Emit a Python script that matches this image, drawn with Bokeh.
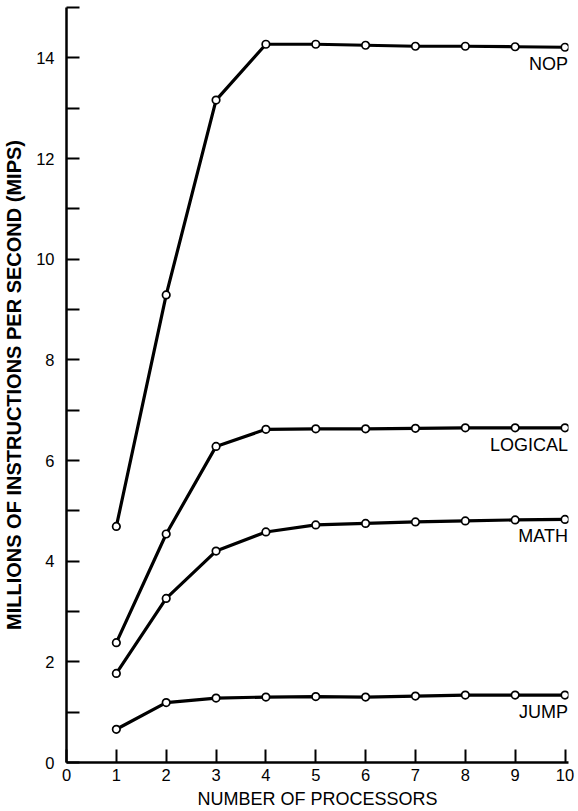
from bokeh.plotting import figure
from bokeh.models import FixedTicker, Range1d, ColumnDataSource
from bokeh.embed import file_html
from bokeh.resources import INLINE
from bokeh.core.properties import value

# ---- data ----
processors = [1, 2, 3, 4, 5, 6, 7, 8, 9, 10]
nop = [4.69, 9.29, 13.16, 14.27, 14.27, 14.25, 14.23, 14.23, 14.22, 14.21]
logical = [2.38, 4.54, 6.28, 6.62, 6.63, 6.63, 6.64, 6.65, 6.65, 6.65]
math_ = [1.77, 3.26, 4.20, 4.58, 4.72, 4.75, 4.78, 4.80, 4.82, 4.83]
jump = [0.66, 1.19, 1.28, 1.30, 1.31, 1.30, 1.32, 1.34, 1.34, 1.34]
series_names = ["NOP", "LOGICAL", "MATH", "JUMP"]
x_ticks = [0, 1, 2, 3, 4, 5, 6, 7, 8, 9, 10]
y_ticks = [0, 2, 4, 6, 8, 10, 12, 14]
y_minor_ticks = [1, 3, 5, 7, 9, 11, 13, 15]

FONT = "Liberation Sans"

p = figure(
    width=578, height=811,
    x_range=Range1d(0, 10.07), y_range=Range1d(0, 15),
    output_backend="svg", toolbar_location=None,
    min_border_left=65, min_border_right=10,
    min_border_top=7, min_border_bottom=49,
    x_axis_label="NUMBER OF PROCESSORS",
    y_axis_label="MILLIONS OF INSTRUCTIONS PER SECOND (MIPS)",
)
p.outline_line_color = None
p.xgrid.grid_line_color = None
p.ygrid.grid_line_color = None
p.background_fill_color = "white"
p.border_fill_color = "white"

# x axis
xa = p.xaxis[0]
xa.ticker = FixedTicker(ticks=x_ticks)
xa.axis_line_width = 2.5
xa.axis_line_color = "black"
xa.major_tick_in = 13
xa.major_tick_out = 0
xa.major_tick_line_width = 2
xa.major_tick_line_color = "black"
xa.minor_tick_line_color = None
xa.major_label_standoff = 6
xa.major_label_text_font = FONT
xa.major_label_text_font_size = "16.5px"
xa.major_label_text_color = "black"
xa.axis_label_text_font = FONT
xa.axis_label_text_font_size = "18px"
xa.axis_label_text_font_style = "normal"
xa.axis_label_text_color = "black"
xa.axis_label_standoff = 5

# y axis
ya = p.yaxis[0]
ya.ticker = FixedTicker(ticks=y_ticks, minor_ticks=y_minor_ticks)
ya.axis_line_width = 2.5
ya.axis_line_color = "black"
ya.major_tick_in = 13
ya.major_tick_out = 0
ya.minor_tick_in = 13
ya.minor_tick_out = 0
ya.major_tick_line_width = 2
ya.minor_tick_line_width = 2
ya.major_tick_line_color = "black"
ya.minor_tick_line_color = "black"
ya.major_label_standoff = 12
ya.major_label_text_font = FONT
ya.major_label_text_font_size = "16.5px"
ya.major_label_text_color = "black"
ya.axis_label_text_font = FONT
ya.axis_label_text_font_size = "20px"
ya.axis_label_text_font_style = "bold"
ya.axis_label_text_color = "black"
ya.axis_label_standoff = 8

all_series = [nop, logical, math_, jump]
for ys in all_series:
    src = ColumnDataSource(dict(x=processors, y=ys))
    p.line("x", "y", source=src, line_width=3.2, line_color="black")
    p.scatter("x", "y", source=src, size=7.5, fill_color="white",
              line_color="black", line_width=1.7)

lab_src = ColumnDataSource(dict(
    x=[processors[-1]] * len(series_names),
    y=[s[-1] for s in all_series],
    t=series_names,
))
p.text("x", "y", text="t", source=lab_src, text_align="right",
       text_baseline="middle", x_offset=3, y_offset=17,
       text_font=value(FONT), text_font_size="18px", text_color="black")

open("out.html", "w").write(file_html(p, INLINE))
